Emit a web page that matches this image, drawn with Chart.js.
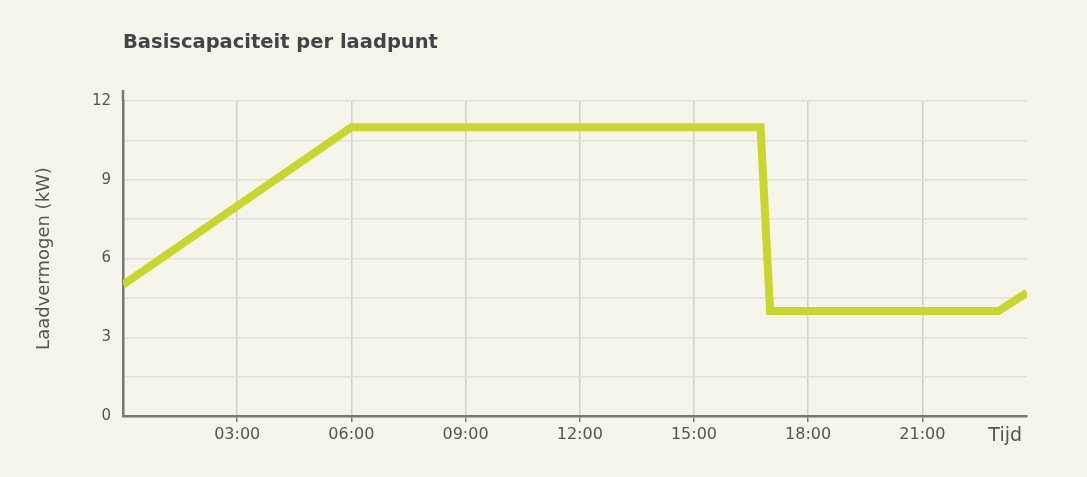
<!DOCTYPE html>
<html>
<head>
<meta charset="utf-8">
<title>Basiscapaciteit per laadpunt</title>
<script src="https://cdn.jsdelivr.net/npm/chart.js@4.4.1/dist/chart.umd.min.js"></script>
<style>
    html, body { margin: 0; padding: 0; background: #f5f5eb; }
    #chart-box { width: 1087px; height: 477px; }
</style>
</head>
<body>
<div id="chart-box"><canvas id="capacity-chart" width="1087" height="477"></canvas></div>
<script>
// uren van de dag en het laadvermogen (kW) op dat moment
var hours = [0, 6, 16.75, 17, 23, 23.75];
var power = [5, 11, 11, 4, 4, 4.7];
var xTicks = [3, 6, 9, 12, 15, 18, 21];
var yTicks = [0, 1.5, 3, 4.5, 6, 7.5, 9, 10.5, 12];
var yLabels = [0, 3, 6, 9, 12];

var TITLE = 'Basiscapaciteit per laadpunt';
var X_TITLE = 'Tijd';
var Y_TITLE = 'Laadvermogen (kW)';

var FONT = '"DejaVu Sans", "Open Sans", sans-serif';
var TEXT_COLOR = '#555555';
var AXIS_COLOR = '#777777';

function pad(n) {
    return (n < 10 ? '0' : '') + n;
}

var points = hours.map(function(h, i) {
    return { x: h, y: power[i] };
});

var extraText = {
    id: 'extraText',
    beforeDraw: function(chart) {
        var ctx = chart.ctx;
        ctx.save();
        ctx.fillStyle = '#f5f5eb';
        ctx.fillRect(0, 0, chart.width, chart.height);
        ctx.restore();
    },
    afterDraw: function(chart) {
        var ctx = chart.ctx;
        var area = chart.chartArea;
        ctx.save();
        // de y-as loopt een stukje boven de 12 door
        ctx.strokeStyle = AXIS_COLOR;
        ctx.lineWidth = 2.5;
        ctx.beginPath();
        ctx.moveTo(area.left, area.top - 11);
        ctx.lineTo(area.left, area.top);
        ctx.stroke();

        ctx.fillStyle = '#444444';
        ctx.font = 'bold 19.5px ' + FONT;
        ctx.textAlign = 'left';
        ctx.textBaseline = 'alphabetic';
        ctx.fillText(TITLE, area.left, 48);

        // "Tijd" staat naast de laatste tijdlabel
        ctx.fillStyle = TEXT_COLOR;
        ctx.font = '19px ' + FONT;
        ctx.textAlign = 'right';
        ctx.textBaseline = 'middle';
        ctx.fillText(X_TITLE, area.right - 5, 436);
        ctx.restore();
    }
};

var chart = new Chart(document.getElementById('capacity-chart'), {
    type: 'line',
    data: {
        datasets: [{
            data: points,
            borderColor: '#c9d62b',
            borderWidth: 8,
            borderJoinStyle: 'miter',
            borderCapStyle: 'butt',
            pointRadius: 0,
            fill: false,
            tension: 0
        }]
    },
    options: {
        responsive: false,
        animation: false,
        layout: { padding: { top: 101, right: 60, bottom: 0, left: 0 } },
        plugins: {
            legend: { display: false },
            tooltip: { enabled: false }
        },
        scales: {
            x: {
                type: 'linear',
                min: hours[0],
                max: hours[hours.length - 1],
                afterBuildTicks: function(scale) {
                    scale.ticks = xTicks.map(function(v) { return { value: v }; });
                },
                afterFit: function(scale) {
                    scale.height = 61;
                },
                grid: {
                    color: '#d2d2cc',
                    lineWidth: 1.5,
                    drawTicks: true,
                    tickLength: 6,
                    tickColor: AXIS_COLOR,
                    tickWidth: 1.5
                },
                border: { color: AXIS_COLOR, width: 2.5 },
                ticks: {
                    color: TEXT_COLOR,
                    font: { family: FONT, size: 16 },
                    padding: 3,
                    maxRotation: 0,
                    callback: function(v) { return pad(v) + ':00'; }
                }
            },
            y: {
                min: 0,
                max: 12,
                afterBuildTicks: function(scale) {
                    scale.ticks = yTicks.map(function(v) { return { value: v }; });
                },
                afterFit: function(scale) {
                    scale.width = 123;
                },
                grid: {
                    color: '#e1e1da',
                    lineWidth: 1.5,
                    drawTicks: false
                },
                border: { color: AXIS_COLOR, width: 2.5 },
                ticks: {
                    color: TEXT_COLOR,
                    font: { family: FONT, size: 15 },
                    padding: 12,
                    callback: function(v) {
                        return yLabels.indexOf(v) >= 0 ? String(v) : '';
                    }
                },
                title: {
                    display: true,
                    text: Y_TITLE,
                    color: TEXT_COLOR,
                    font: { family: FONT, size: 18 },
                    padding: { top: 34, bottom: 0 }
                }
            }
        }
    },
    plugins: [extraText]
});
</script>
</body>
</html>
